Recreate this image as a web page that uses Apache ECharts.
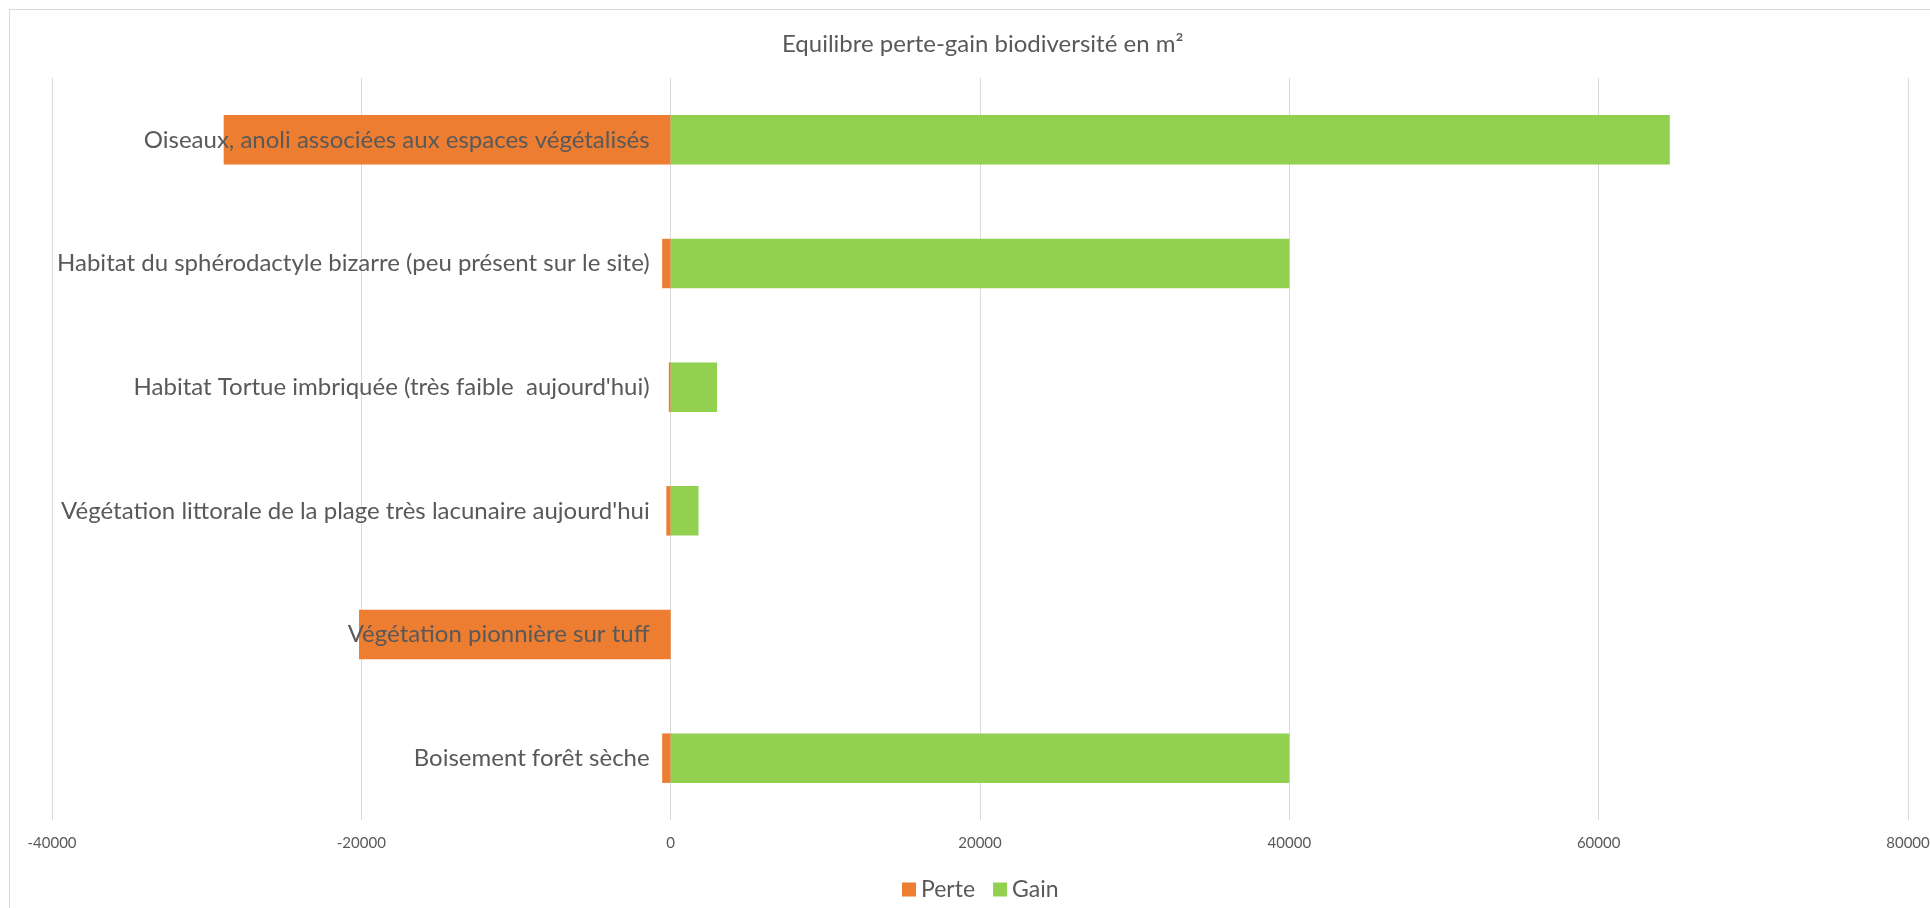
<!DOCTYPE html>
<html>
<head>
<meta charset="utf-8">
<script src="https://cdn.jsdelivr.net/npm/echarts@6/dist/echarts.min.js"></script>
<style>
  html, body { margin: 0; padding: 0; background: #fff; }
  #chart { position: absolute; left: 0; top: 0; width: 1930px; height: 908px; }
  #frame { position: absolute; left: 9px; top: 9px; width: 1940px; height: 920px; border: 1px solid #d9d9d9; pointer-events: none; }
</style>
</head>
<body>
<div id="chart"></div>
<div id="frame"></div>
<script>
const categories = [
  'Oiseaux, anoli associées aux espaces végétalisés',
  'Habitat du sphérodactyle bizarre (peu présent sur le site)',
  'Habitat Tortue imbriquée (très faible  aujourd\'hui)',
  'Végétation littorale de la plage très lacunaire aujourd\'hui',
  'Végétation pionnière sur tuff',
  'Boisement forêt sèche'
];
const perte = [-28900, -550, -120, -280, -20150, -550];
const gain = [64600, 40000, 3000, 1800, 0, 40000];
const xTicks = { min: -40000, max: 80000, interval: 20000 };

const font = 'Lato, "Open Sans", sans-serif';
const textColor = '#595959';
const gridLeft = 52;

const chart = echarts.init(document.getElementById('chart'));
chart.setOption({
  textStyle: { fontFamily: font },
  title: {
    text: 'Equilibre perte-gain biodiversité en m²',
    left: 777,
    top: 27,
    textStyle: { color: textColor, fontSize: 24, fontWeight: 'normal', fontFamily: font },
  },
  legend: {
    data: ['Perte', 'Gain'],
    left: 897,
    top: 873,
    itemWidth: 14,
    itemHeight: 14,
    itemGap: 18,
    icon: 'rect',
    textStyle: { color: textColor, fontSize: 23, fontFamily: font },
  },
  grid: { left: gridLeft, right: 22, top: 78, bottom: 88, containLabel: false, outerBoundsMode: 'none' },
  xAxis: {
    type: 'value',
    min: xTicks.min,
    max: xTicks.max,
    interval: xTicks.interval,
    axisLine: { show: false },
    axisTick: { show: false },
    splitLine: { lineStyle: { color: '#d9d9d9', width: 1 } },
    axisLabel: { color: textColor, fontSize: 15, margin: 16, fontFamily: font, formatter: (v) => String(v) },
  },
  yAxis: {
    type: 'category',
    inverse: true,
    data: categories,
    z: 10,
    position: 'left',
    axisLine: { show: false, onZero: false },
    axisTick: { show: false },
    axisLabel: { color: textColor, fontSize: 24, margin: 21, fontFamily: font },
  },
  series: [
    {
      name: 'Perte',
      type: 'bar',
      stack: 'bilan',
      barCategoryGap: '60%',
      itemStyle: { color: '#ED7D31' },
      data: perte,
    },
    {
      name: 'Gain',
      type: 'bar',
      stack: 'bilan',
      barCategoryGap: '60%',
      itemStyle: { color: '#92D050' },
      data: gain,
    },
  ],
});

// category labels sit next to the zero line, as in the original
const zeroX = chart.convertToPixel({ xAxisIndex: 0 }, 0);
chart.setOption({ yAxis: { offset: gridLeft - zeroX } });
</script>
</body>
</html>
